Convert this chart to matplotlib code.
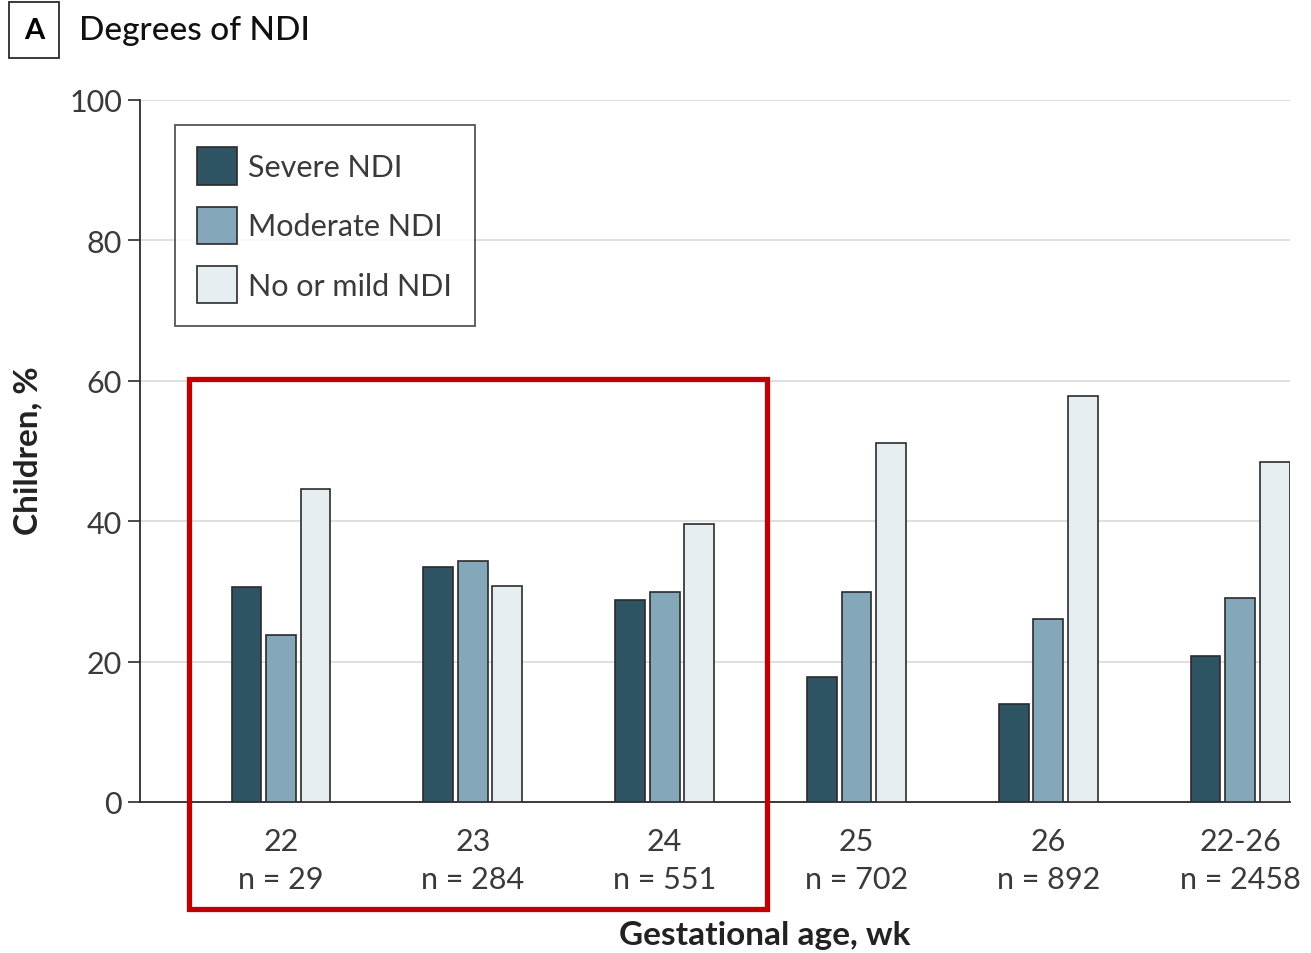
import matplotlib
matplotlib.use("Agg")
import matplotlib.pyplot as plt
from matplotlib.patches import Rectangle, Patch
import numpy as np

plt.rcParams['font.family'] = ['Lato', 'DejaVu Sans']

groups = ["22", "23", "24", "25", "26", "22-26"]
n_labels = ["n = 29", "n = 284", "n = 551", "n = 702", "n = 892", "n = 2458"]
severe = [30.6, 33.5, 28.8, 17.8, 14.0, 20.8]
moderate = [23.8, 34.3, 29.9, 29.9, 26.1, 29.1]
mild = [44.6, 30.8, 39.6, 51.1, 57.8, 48.4]
series_names = ["Severe NDI", "Moderate NDI", "No or mild NDI"]
colors = ["#2e5463", "#84a8b9", "#e7eef2"]

fig = plt.figure(figsize=(13.11, 9.54), dpi=100)
ax = fig.add_axes([140/1311, 1-803/954, 1150/1311, 702/954])

x = np.arange(len(groups))
step = 0.18
w = 0.155
for i, (vals, c) in enumerate(zip([severe, moderate, mild], colors)):
    ax.bar(x + (i-1)*step, vals, width=w, color=c, edgecolor="#2b2b2b",
           linewidth=1.2, zorder=3, label=series_names[i])

ax.set_xlim(-0.735, 5.26)
ax.set_ylim(0, 100)
ax.set_yticks([0, 20, 40, 60, 80, 100])
ax.yaxis.grid(True, color="#d9d9d9", linewidth=1.2, zorder=0)
ax.set_axisbelow(True)
for s in ["top", "right"]:
    ax.spines[s].set_visible(False)
ax.spines["left"].set_color("#2b2b2b")
ax.spines["bottom"].set_color("#2b2b2b")
ax.spines["left"].set_linewidth(1.3)
ax.spines["bottom"].set_linewidth(1.3)
ax.tick_params(axis="y", length=9, width=1.2, color="#2b2b2b", labelsize=22,
               labelcolor="#3a3a3a", pad=4)
ax.tick_params(axis="x", length=0, labelsize=22, labelcolor="#3a3a3a", pad=18)
ax.set_xticks(x)
ax.set_xticklabels([f"{g}\n{n}" for g, n in zip(groups, n_labels)], linespacing=1.45)

ax.set_ylabel("Children, %", fontsize=24, fontweight="bold", color="#222222")
ax.yaxis.set_label_coords(-(140-28)/1150, (803-451)/702)
ax.set_xlabel("Gestational age, wk", fontsize=24, fontweight="bold", color="#222222")
ax.xaxis.set_label_coords((765-140)/1150, -(936-803)/702)
ax.xaxis.label.set_va("center")
ax.yaxis.label.set_va("center")

handles = [Patch(facecolor=c, edgecolor="#2b2b2b", linewidth=1.2) for c in colors]
leg = ax.legend(handles, series_names, loc="upper left", bbox_to_anchor=(0.03, 0.965),
                frameon=True, fancybox=False, edgecolor="#2b2b2b",
                handlelength=1.3, handleheight=1.5, handletextpad=0.35,
                labelspacing=0.72, borderpad=0.75, borderaxespad=0,
                prop={"size": 22})
leg.get_frame().set_linewidth(1.3)
for t in leg.get_texts():
    t.set_color("#3a3a3a")

# Panel label
fig.text(34/1311, 1-31/954, "A", fontsize=21, fontweight="bold", ha="center", va="center",
         bbox=dict(boxstyle="square,pad=0.5", facecolor="white", edgecolor="#2b2b2b", linewidth=1.3))
fig.text(79/1311, 1-31/954, "Degrees of NDI", fontsize=24, ha="left", va="center",
         color="#111111", fontweight="medium")

# Red highlight rectangle
fig.patches.append(Rectangle((189/1311, 1-910/954), (767-189)/1311, (910-380)/954,
                             transform=fig.transFigure, fill=False, edgecolor="#c00000",
                             linewidth=3.8, zorder=10))

fig.savefig("out.png", dpi=100)
